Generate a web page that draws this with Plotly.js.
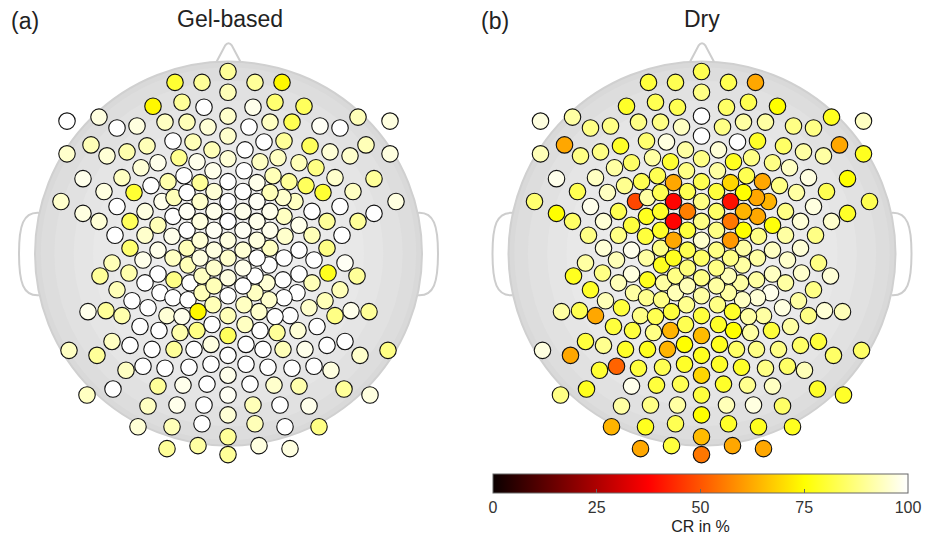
<!DOCTYPE html>
<html><head><meta charset="utf-8">
<script src="https://cdn.plot.ly/plotly-3.0.1.min.js"></script>
<style>html,body{margin:0;padding:0;background:#fff;} #chart{width:938px;height:536px;}</style>
</head><body><div id="chart"></div>
<script>
// ---- electrode layout (head-local coordinates) ----
const midlineX = [228,228,228,228,228,228,228,228,228,228,228,228,228,228,228,228,228,228,228,228];
const midlineY = [72,93,117,137,160,183,203,223,242,260,280,298,318,338,358,378,398,418,440,458];
const leftX = [175,202,153,182,204,67,99,117,137,165,
187,208,67,91,107,127,147,173,193,212,
83,104,122,141,158,179,197,213,61,83,
99,117,134,151,168,184,200,162,145,130,
115,158,145,130,158,112,143,158,100,129,
145,117,160,132,148,88,106,122,140,112,
130,69,97,126,113,87,174,173,172,173,
174,173,167,159,152,143,187,187,187,187,
188,190,188,182,180,174,165,158,148,138,
200,200,200,200,202,202,198,197,194,189,
183,177,172,167,214,214,214,214,214,214,
213,212,211,211,207,204,202,198];
const sideY = [83,83,107,103,108,122,118,129,127,123,
123,128,155,146,157,153,147,142,143,151,
180,193,179,169,164,159,163,172,203,215,
223,208,194,187,183,177,184,203,213,223,
237,227,237,250,252,265,262,276,278,275,
285,292,295,303,310,314,313,318,329,344,
348,353,358,373,392,398,199,218,238,260,
282,300,318,333,352,369,194,213,232,250,
267,285,302,319,335,352,371,389,409,430,
203,223,242,260,278,295,314,333,352,370,
388,408,430,452,193,213,232,252,270,288,
307,327,347,367,387,408,427,449];
const rightX = [282,255,304,275,253,390,358,340,320,292,
270,249,390,366,350,330,310,284,264,245,
374,353,335,316,299,278,260,244,396,374,
358,340,323,306,289,273,257,295,312,327,
342,299,312,327,299,345,314,299,357,328,
312,340,297,325,309,369,351,335,317,345,
327,388,360,331,344,370,283,284,285,284,
283,284,290,298,305,314,270,270,270,270,
269,267,269,275,277,283,292,299,309,319,
257,257,257,257,255,255,259,260,263,268,
274,280,285,290,243,243,243,243,243,243,
244,245,246,246,250,253,255,259];

// ---- CR values in % ----
const gelMid = [90,93,95,95,96,100,100,100,97,95,97,100,93,84,100,98,99,96,90,90];
const dryMid = [83,88,100,100,88,83,88,88,95,85,88,91,81,65,78,69,81,75,65,55];
const gelLeft = [80,90,74,90,100,100,97,100,97,94,
93,96,95,93,96,92,93,100,93,93,
98,97,94,96,98,89,98,98,95,97,
96,100,80,100,92,100,90,98,97,84,
100,93,95,86,98,93,98,100,90,92,
100,93,100,100,100,98,90,92,100,94,
100,94,90,94,100,94,93,100,98,94,
88,100,96,100,100,100,100,99,100,93,
93,100,100,98,92,90,100,90,94,96,
95,97,96,97,94,93,74,88,100,100,
98,98,93,90,96,98,99,97,95,93,
93,100,97,100,100,100,100,91];
const dryLeft = [81,83,79,83,83,97,91,88,88,88,
88,94,93,62,88,88,79,86,97,91,
98,83,94,91,85,91,80,88,86,75,
85,98,94,89,83,83,62,48,83,96,
88,81,88,96,98,91,93,97,78,88,
93,79,91,93,81,91,83,62,81,81,
89,97,62,80,78,88,91,78,81,91,
78,89,88,81,79,52,83,79,79,88,
78,91,88,83,88,78,81,98,91,64,
38,38,62,78,88,93,81,64,64,83,
81,88,78,62,83,56,81,83,87,93,
89,83,75,79,83,91,83,81];
const gelRight = [74,90,84,86,98,97,93,100,99,83,
94,100,97,93,95,96,84,90,100,100,
90,94,95,88,93,94,94,100,97,100,
90,100,80,84,90,93,98,94,100,90,
100,98,93,88,100,99,100,100,90,78,
93,93,100,93,95,90,98,88,100,100,
100,88,95,97,90,97,95,94,95,100,
100,100,100,96,98,100,93,98,98,94,
100,96,95,100,90,93,100,92,98,88,
99,98,97,100,100,94,95,100,100,100,
95,100,100,97,100,98,99,96,98,100,
94,94,100,100,100,93,93,97];
const dryRight = [62,83,75,83,85,94,78,88,88,91,
91,88,78,62,91,91,85,79,100,96,
75,83,97,94,88,88,78,91,83,79,
95,97,91,88,62,83,69,64,88,96,
88,76,91,96,94,88,95,94,96,95,
91,88,98,91,97,93,96,88,91,81,
85,85,85,93,79,79,62,62,88,91,
91,96,91,81,88,85,75,64,75,91,
91,91,94,91,91,88,88,94,85,78,
40,55,60,88,93,91,79,75,85,79,
89,97,78,62,81,85,88,88,88,91,
88,79,78,79,79,93,79,62];

const panelTitles = ['Gel-based', 'Dry'];
const panelLabels = ['(a)', '(b)'];
const cbTicks = [0, 25, 50, 75, 100];
const cbTitle = 'CR in %';

// ---- build ----
const ex = midlineX.concat(leftX, rightX);
const ey = midlineY.concat(sideY, sideY);
const gel = gelMid.concat(gelLeft, gelRight);
const dry = dryMid.concat(dryLeft, dryRight);

const hot = [[0,'rgb(10,0,0)'],[0.375,'rgb(255,0,0)'],[0.75,'rgb(255,255,0)'],[1,'rgb(255,255,255)']];
const FONT = 'Liberation Sans, Arial, Helvetica, sans-serif';

function markers(vals, xa, ya, showScale) {
  const m = {size:16.5, color:vals, cmin:0, cmax:100, colorscale:hot, showscale:showScale,
             line:{color:'#111', width:1.1}};
  if (showScale) {
    m.colorbar = {orientation:'h', x:700.5/938, xanchor:'center', y:1-478/536, yanchor:'top',
      len:415, lenmode:'pixels', thickness:19, thicknessmode:'pixels', xpad:0, ypad:0,
      outlinecolor:'#666', outlinewidth:1, tickvals:cbTicks, ticks:'inside', ticklen:4,
      tickcolor:'#666', tickfont:{family:FONT, size:16, color:'#333'},
      title:{text:cbTitle, side:'bottom', font:{family:FONT, size:16, color:'#222'}}};
  }
  return {type:'scatter', mode:'markers', x:ex, y:ey, xaxis:xa, yaxis:ya, marker:m,
          hoverinfo:'skip', showlegend:false};
}

const cx = 228.5, cy = 255.5, R = 193.5;
function headShapes(xr, yr) {
  const s = [];
  s.push({type:'path', xref:xr, yref:yr, layer:'below',
    path:`M ${cx-15} ${cy-R+6} L ${cx-3.5} ${cy-R-16} Q ${cx} ${cy-R-21} ${cx+3.5} ${cy-R-16} L ${cx+15} ${cy-R+6}`,
    line:{color:'#cdcdcd', width:2}});
  s.push({type:'path', xref:xr, yref:yr, layer:'below',
    path:`M ${cx-R+4} ${cy-41} C ${cx-R-12} ${cy-42}, ${cx-R-16} ${cy-28}, ${cx-R-16} ${cy} C ${cx-R-16} ${cy+29}, ${cx-R-12} ${cy+43}, ${cx-R+4} ${cy+42}`,
    line:{color:'#cdcdcd', width:2}});
  s.push({type:'path', xref:xr, yref:yr, layer:'below',
    path:`M ${cx+R-4} ${cy-41} C ${cx+R+12} ${cy-42}, ${cx+R+16} ${cy-28}, ${cx+R+16} ${cy} C ${cx+R+16} ${cy+29}, ${cx+R+12} ${cy+43}, ${cx+R-4} ${cy+42}`,
    line:{color:'#cdcdcd', width:2}});
  const rings = [[1.0,'#d9d9d9'],[0.97,'#dddddd'],[0.9,'#e1e1e1'],[0.8,'#e5e5e5'],[0.7,'#e8e8e8'],
                 [0.6,'#eaeaea'],[0.5,'#ececec'],[0.38,'#eeeeee']];
  rings.forEach(([f,c],i)=>{
    s.push({type:'circle', xref:xr, yref:yr, layer:'below',
      x0:cx-R*f, x1:cx+R*f, y0:cy-R*f, y1:cy+R*f, fillcolor:c,
      line:{color: i===0 ? '#d0d0d0' : c, width: i===0 ? 2 : 0}});
  });
  return s;
}

const ax = {visible:false, showgrid:false, zeroline:false, fixedrange:true};
const tfont = {family:FONT, size:23, color:'#222'};
const layout = {
  width:938, height:536, margin:{l:0,r:0,t:0,b:0},
  paper_bgcolor:'#ffffff', plot_bgcolor:'rgba(0,0,0,0)',
  xaxis: Object.assign({domain:[0,0.5], range:[0,469]}, ax),
  yaxis: Object.assign({domain:[0,1], range:[536,0]}, ax),
  xaxis2: Object.assign({domain:[0.5,1], range:[-4.5,464.5]}, ax),
  yaxis2: Object.assign({domain:[0,1], range:[536,0], anchor:'x2'}, ax),
  shapes: headShapes('x','y').concat(headShapes('x2','y2')),
  annotations: [
    {text:panelLabels[0], xref:'paper', yref:'paper', x:25/938, y:1-21/536, showarrow:false, xanchor:'center', yanchor:'middle', font:tfont},
    {text:panelTitles[0], xref:'paper', yref:'paper', x:230/938, y:1-19/536, showarrow:false, xanchor:'center', yanchor:'middle', font:tfont},
    {text:panelLabels[1], xref:'paper', yref:'paper', x:495/938, y:1-21/536, showarrow:false, xanchor:'center', yanchor:'middle', font:tfont},
    {text:panelTitles[1], xref:'paper', yref:'paper', x:702/938, y:1-19/536, showarrow:false, xanchor:'center', yanchor:'middle', font:tfont}
  ]
};

Plotly.newPlot('chart', [markers(gel,'x','y',false), markers(dry,'x2','y2',true)], layout,
  {staticPlot:true, displayModeBar:false});
</script>
</body></html>
